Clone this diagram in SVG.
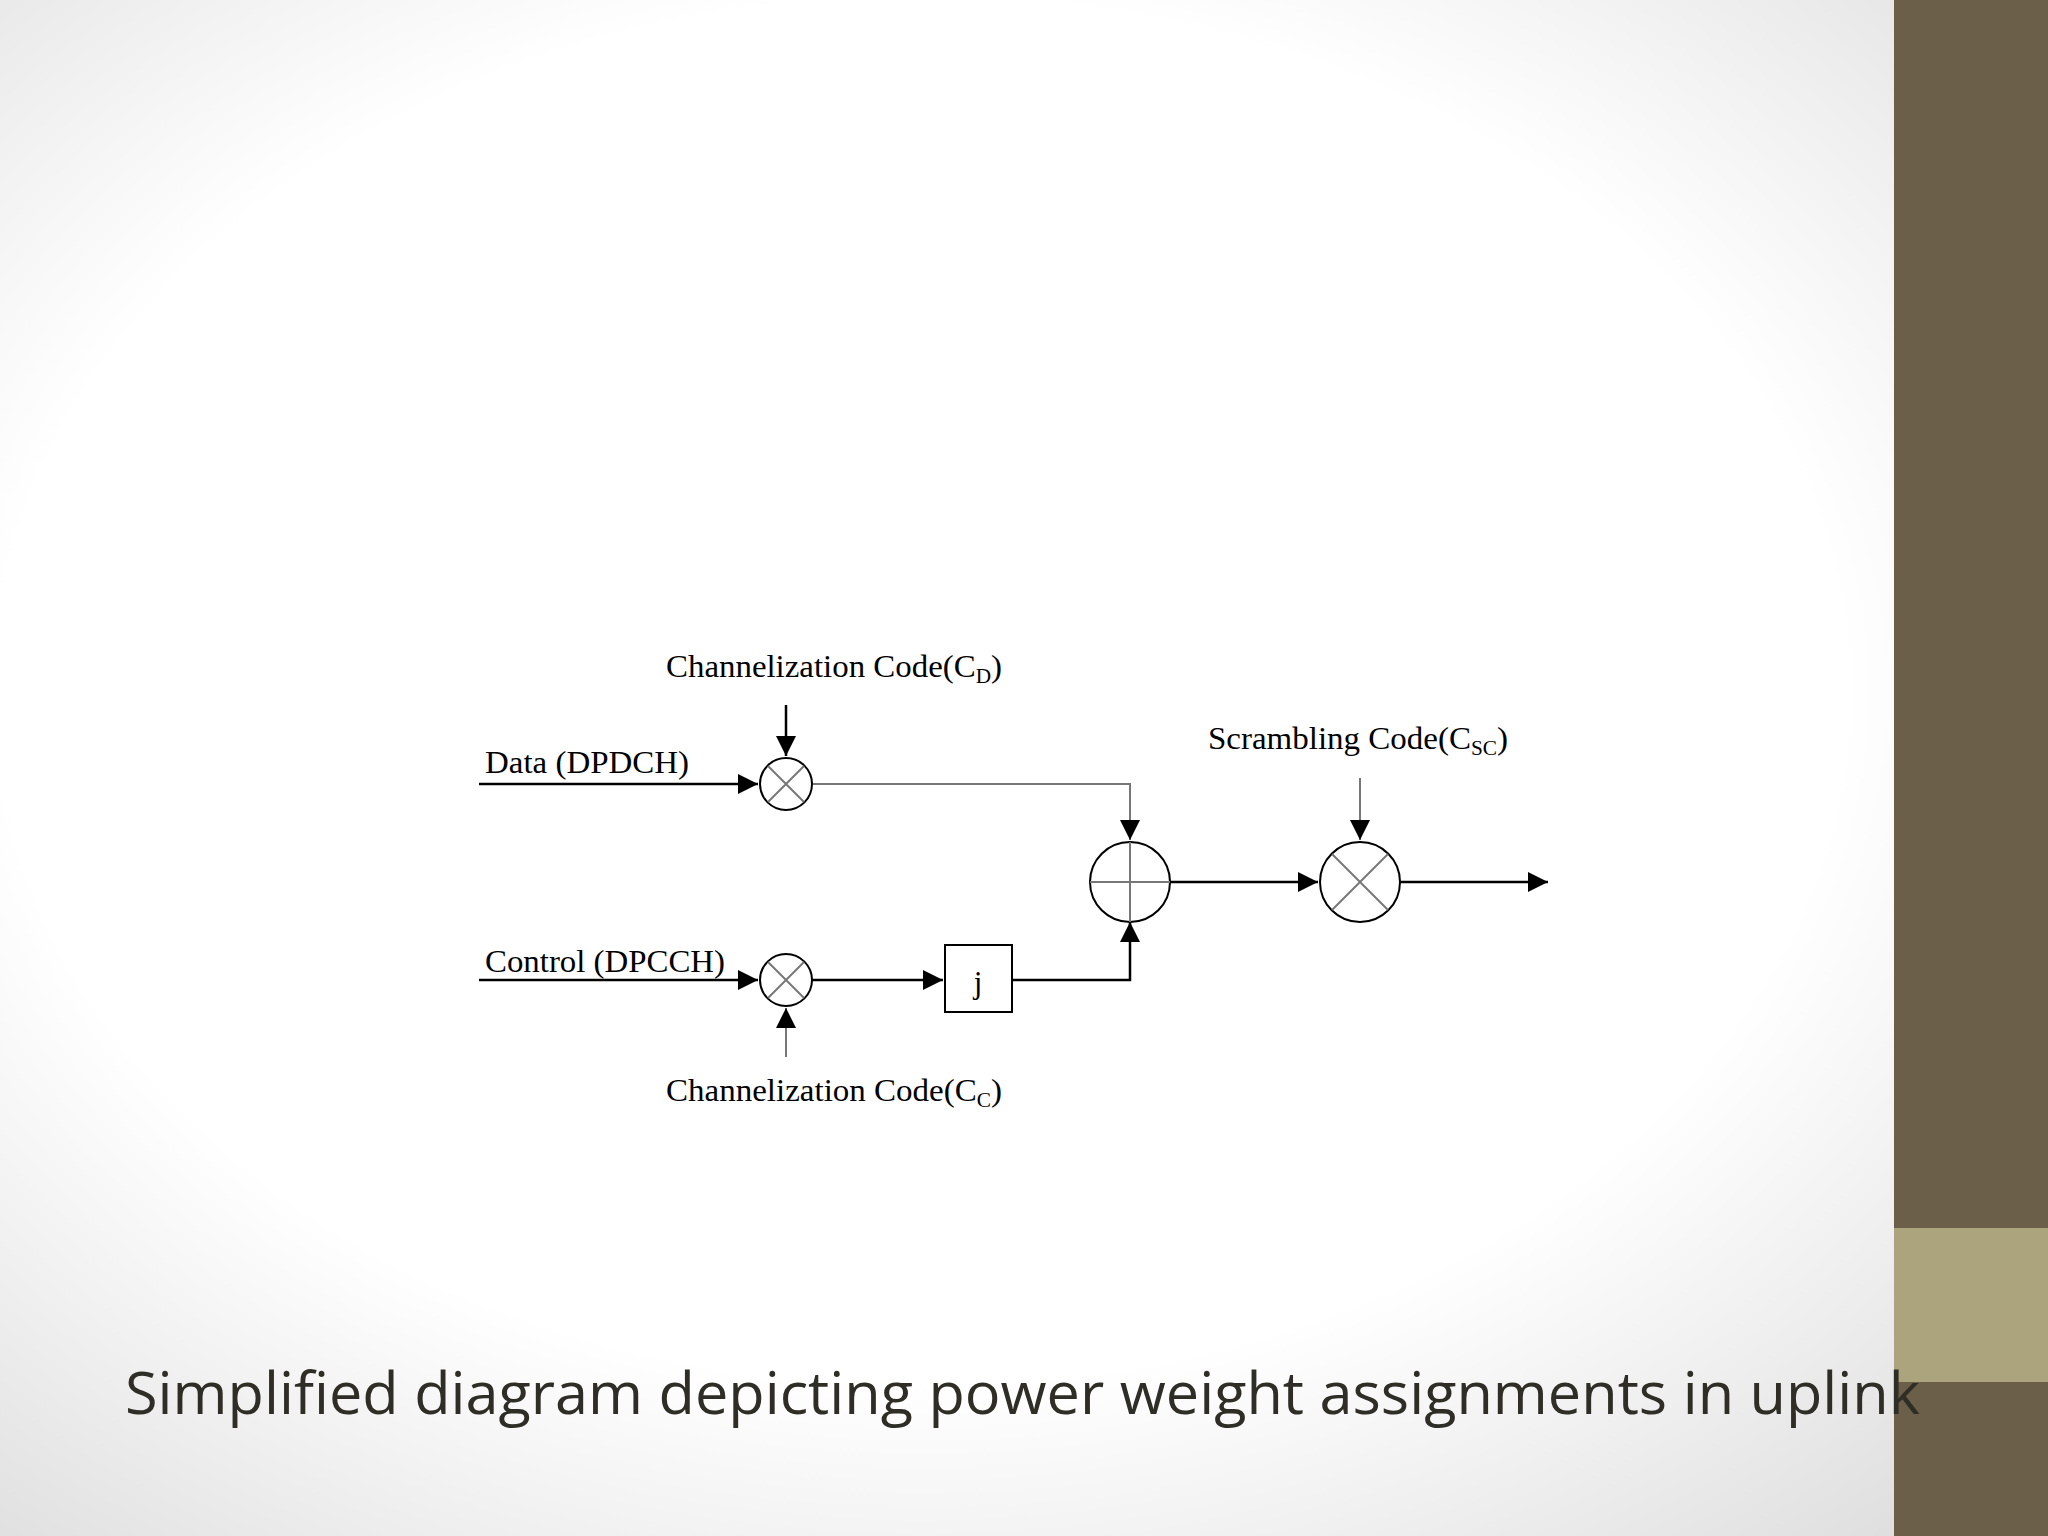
<svg xmlns="http://www.w3.org/2000/svg" width="2048" height="1536" viewBox="0 0 2048 1536">
<defs>
<radialGradient id="bg" cx="0.45" cy="0.45" r="0.75">
<stop offset="0.6" stop-color="#ffffff"/><stop offset="1" stop-color="#dcdcdc"/>
</radialGradient>
<marker id="ah" viewBox="0 0 10 10" refX="10" refY="5" markerWidth="20" markerHeight="20" markerUnits="userSpaceOnUse" orient="auto"><path d="M0,0 L10,5 L0,10 z" fill="#000"/></marker>
<style>
.t{font-family:"Liberation Serif",serif;font-size:31px;fill:#000}
.s{font-size:20px}
.ln{stroke:#000;stroke-width:2.5;fill:none}
.g{stroke:#777;stroke-width:2;fill:none}
.c{stroke:#000;stroke-width:2;fill:#fff}
</style>
</defs>
<rect width="2048" height="1536" fill="url(#bg)"/>
<rect x="1894" y="0" width="154" height="1536" fill="#6b5f49"/>
<rect x="1894" y="1228" width="154" height="154" fill="#aba47c"/>
<g id="connectors">
<line class="ln" x1="479" y1="784" x2="758" y2="784" marker-end="url(#ah)"/>
<line class="ln" x1="786" y1="705" x2="786" y2="756" marker-end="url(#ah)"/>
<polyline class="g" points="812,784 1130,784 1130,840" marker-end="url(#ah)"/>
<line class="ln" x1="1170" y1="882" x2="1318" y2="882" marker-end="url(#ah)"/>
<line class="g" x1="1360" y1="778" x2="1360" y2="840" marker-end="url(#ah)"/>
<line class="ln" x1="1400" y1="882" x2="1548" y2="882" marker-end="url(#ah)"/>
<line class="ln" x1="479" y1="980" x2="758" y2="980" marker-end="url(#ah)"/>
<line class="ln" x1="812" y1="980" x2="943" y2="980" marker-end="url(#ah)"/>
<polyline class="ln" points="1012,980 1130,980 1130,922" marker-end="url(#ah)"/>
<line class="g" x1="786" y1="1057" x2="786" y2="1008" marker-end="url(#ah)"/>
</g>
<g id="mulD"><circle class="c" cx="786" cy="784" r="26"/><path class="g" d="M768,766 L804,802 M804,766 L768,802"/></g>
<g id="mulC"><circle class="c" cx="786" cy="980" r="26"/><path class="g" d="M768,962 L804,998 M804,962 L768,998"/></g>
<g id="adder"><circle class="c" cx="1130" cy="882" r="40"/><path class="g" d="M1090,882 H1170 M1130,842 V922"/></g>
<g id="mulSC"><circle class="c" cx="1360" cy="882" r="40"/><path class="g" d="M1332,854 L1388,910 M1388,854 L1332,910"/></g>
<g id="j"><rect x="945" y="945" width="67" height="67" fill="#fff" stroke="#000" stroke-width="2"/><text class="t" x="978" y="993" text-anchor="middle">j</text></g>
<g id="labels">
<text class="t" x="666" y="677" textLength="336" lengthAdjust="spacingAndGlyphs">Channelization Code(C<tspan class="s" dy="6">D</tspan><tspan dy="-6">)</tspan></text>
<text class="t" x="485" y="773" textLength="204" lengthAdjust="spacingAndGlyphs">Data (DPDCH)</text>
<text class="t" x="1208" y="749" textLength="300" lengthAdjust="spacingAndGlyphs">Scrambling Code(C<tspan class="s" dy="6">SC</tspan><tspan dy="-6">)</tspan></text>
<text class="t" x="485" y="972" textLength="240" lengthAdjust="spacingAndGlyphs">Control (DPCCH)</text>
<text class="t" x="666" y="1101" textLength="336" lengthAdjust="spacingAndGlyphs">Channelization Code(C<tspan class="s" dy="6">C</tspan><tspan dy="-6">)</tspan></text>
</g>
<text x="125" y="1414" font-family="Open Sans, sans-serif" font-size="58" fill="#2e2e26" textLength="1795" lengthAdjust="spacingAndGlyphs">Simplified diagram depicting power weight assignments in uplink</text>
</svg>
